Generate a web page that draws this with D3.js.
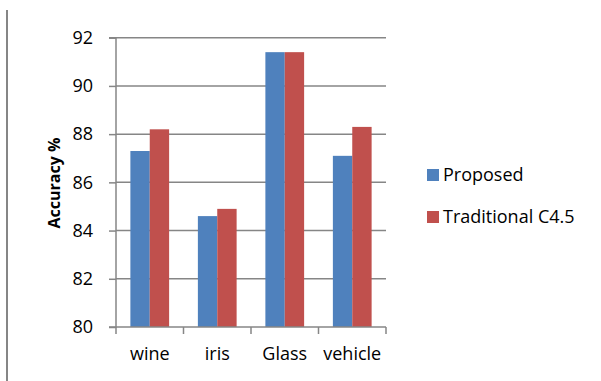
<!DOCTYPE html>
<html>
<head>
<meta charset="utf-8">
<script src="https://cdn.jsdelivr.net/npm/d3@7"></script>
<style>
  body { margin: 0; background: #fff; }
  svg text { font-family: "Open Sans", Lato, sans-serif; fill: #000; }
</style>
</head>
<body>
<svg id="chart" width="601" height="381"></svg>
<script>
// Data
const categories = ['wine', 'iris', 'Glass', 'vehicle'];
const seriesNames = ['Proposed', 'Traditional C4.5'];
const proposed = [87.3, 84.6, 91.4, 87.1];
const traditional = [88.2, 84.9, 91.4, 88.3];
const yTicks = [80, 82, 84, 86, 88, 90, 92];

const colors = ['#4f81bd', '#c0504d'];
const gridColor = '#868686';
const fontFamily = '"Open Sans", Lato, sans-serif';

const svg = d3.select('#chart');

const plot = { left: 116, right: 386, top: 37.7, bottom: 327 };

// Thin vertical rule on the far left of the picture
svg.append('line')
  .attr('x1', 7).attr('x2', 7)
  .attr('y1', 10).attr('y2', 381)
  .style('stroke', gridColor)
  .style('stroke-width', 2);

const xScale = d3.scaleBand()
  .domain(categories)
  .range([plot.left, plot.right]);

const yScale = d3.scaleLinear()
  .domain([80, 92])
  .range([plot.bottom, plot.top]);

// Gridlines
svg.append('g')
  .attr('class', 'grid')
  .selectAll('line')
  .data(yTicks.slice(1))
  .join('line')
  .attr('x1', plot.left)
  .attr('x2', plot.right)
  .attr('y1', d => yScale(d))
  .attr('y2', d => yScale(d))
  .style('stroke', gridColor)
  .style('stroke-width', 1.5);

// Bars
const series = [proposed, traditional];
const barWidth = xScale.bandwidth() * 0.287;

series.forEach((values, s) => {
  svg.append('g')
    .selectAll('rect')
    .data(categories.map((c, i) => ({ cat: c, value: values[i] })))
    .join('rect')
    .attr('x', d => xScale(d.cat) + xScale.bandwidth() / 2 - barWidth + s * barWidth)
    .attr('y', d => yScale(d.value))
    .attr('width', barWidth)
    .attr('height', d => plot.bottom - yScale(d.value))
    .style('fill', colors[s]);
});

// Y axis
const yAxis = svg.append('g')
  .attr('transform', `translate(${plot.left}, 0)`)
  .call(d3.axisLeft(yScale).tickValues(yTicks).tickSize(7).tickPadding(16));

// X axis
const xAxis = svg.append('g')
  .attr('transform', `translate(0, ${plot.bottom})`)
  .call(d3.axisBottom(xScale).tickSize(0).tickPadding(20));

// Tick marks between categories on the x axis
svg.append('g')
  .selectAll('line')
  .data(d3.range(categories.length + 1))
  .join('line')
  .attr('x1', i => plot.left + i * xScale.step())
  .attr('x2', i => plot.left + i * xScale.step())
  .attr('y1', plot.bottom)
  .attr('y2', plot.bottom + 7)
  .style('stroke', gridColor)
  .style('stroke-width', 1.5);

[yAxis, xAxis].forEach(ax => {
  ax.select('.domain').style('stroke', gridColor).style('stroke-width', 1.5);
  ax.selectAll('.tick line').style('stroke', gridColor).style('stroke-width', 1.5);
  ax.selectAll('text')
    .style('font-size', '18px')
    .style('font-family', fontFamily)
    .style('fill', '#000');
});
yAxis.select('.domain').attr('d', `M-7,${plot.top}H0V${plot.bottom}H-7`);
xAxis.select('.domain').attr('d', `M${plot.left},0H${plot.right}`);

// Y axis title
svg.append('text')
  .attr('transform', 'translate(54, 183) rotate(-90)')
  .attr('text-anchor', 'middle')
  .attr('dy', '0.35em')
  .style('font-size', '16px')
  .style('font-weight', 'bold')
  .text('Accuracy %');

// Legend
const legend = svg.append('g')
  .attr('transform', 'translate(427, 169)');

const legendItems = legend.selectAll('g')
  .data(seriesNames)
  .join('g')
  .attr('transform', (d, i) => `translate(0, ${i * 42})`);

legendItems.append('rect')
  .attr('width', 12)
  .attr('height', 12)
  .style('fill', (d, i) => colors[i]);

legendItems.append('text')
  .attr('x', 16)
  .attr('y', 6)
  .attr('dy', '0.35em')
  .style('font-size', '18px')
  .text(d => d);
</script>
</body>
</html>
